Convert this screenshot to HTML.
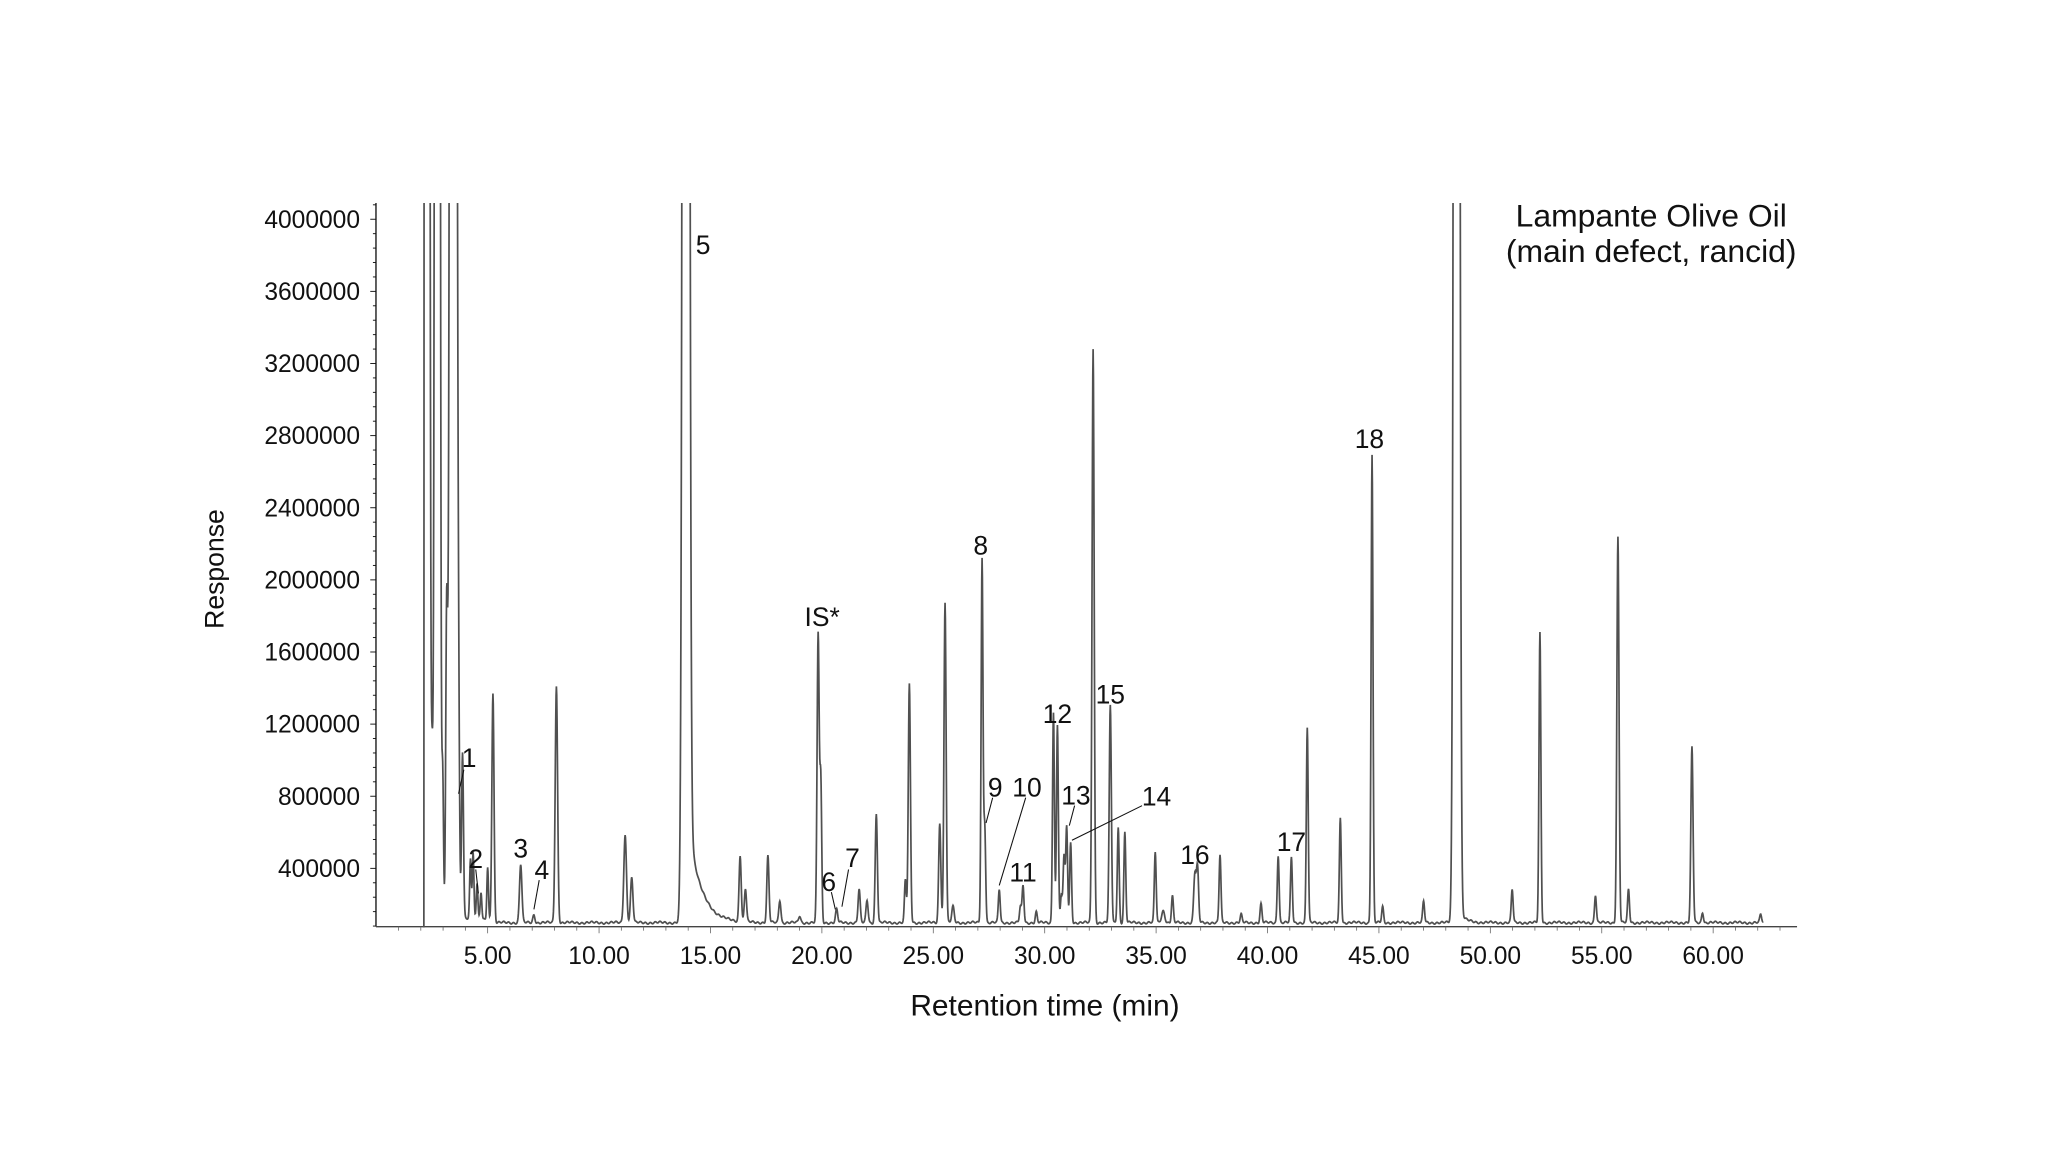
<!DOCTYPE html>
<html><head><meta charset="utf-8"><style>
html,body{margin:0;padding:0;background:#fff;}
svg{display:block;}
text{font-family:"Liberation Sans",sans-serif;fill:#111;}
.yl{font-size:18.5px;text-anchor:end;}
.xl{font-size:18.5px;text-anchor:middle;}
.pl{font-size:20px;text-anchor:middle;}
</style></head><body>
<svg id="s" width="2066" height="1158" viewBox="0 0 1554 871" xmlns="http://www.w3.org/2000/svg">
<defs><clipPath id="c"><rect x="283" y="152.7" width="1070" height="545"/></clipPath></defs>
<g id="axes" stroke="#111" stroke-width="1"></g>
<g clip-path="url(#c)"><g transform="matrix(0.99436 0 0 1 -6.085 -6)"><path id="p" fill="none" stroke="#505050" stroke-width="1.3"/></g></g>
<g id="labels"></g>
<text x="163" y="428" transform="rotate(-90 163 428)" style="font-size:20px" text-anchor="middle" dominant-baseline="middle">Response</text>
<text x="786" y="764" style="font-size:22.5px" text-anchor="middle">Retention time (min)</text>
<text x="1242" y="170.5" style="font-size:24px" text-anchor="middle">Lampante Olive Oil</text>
<text x="1242" y="197" style="font-size:24px" text-anchor="middle">(main defect, rancid)</text>
<g transform="matrix(0.99436 0 0 1 -6.085 -6)">
<g stroke="#111" stroke-width="0.8">
<line x1="357" y1="585" x2="353" y2="603"/>
<line x1="366" y1="660" x2="368" y2="678"/>
<line x1="414" y1="668" x2="410" y2="690"/>
<line x1="635" y1="677" x2="638" y2="690"/>
<line x1="648" y1="660" x2="643" y2="688"/>
<line x1="757" y1="606" x2="752" y2="625"/>
<line x1="782" y1="606" x2="762" y2="672"/>
<line x1="819" y1="612" x2="815" y2="627"/>
<line x1="870" y1="612" x2="817" y2="638"/>
</g>
<text class="pl" x="538" y="197">5</text>
<text class="pl" x="628" y="477">IS*</text>
<text class="pl" x="748" y="423">8</text>
<text class="pl" x="1042" y="343">18</text>
<text class="pl" x="806" y="550">12</text>
<text class="pl" x="846" y="535">15</text>
<text class="pl" x="759" y="605">9</text>
<text class="pl" x="783" y="605">10</text>
<text class="pl" x="820" y="611">13</text>
<text class="pl" x="881" y="612">14</text>
<text class="pl" x="780" y="669">11</text>
<text class="pl" x="910" y="656">16</text>
<text class="pl" x="983" y="646">17</text>
<text class="pl" x="361" y="583">1</text>
<text class="pl" x="366" y="659">2</text>
<text class="pl" x="400" y="651">3</text>
<text class="pl" x="416" y="667">4</text>
<text class="pl" x="633" y="676">6</text>
<text class="pl" x="651" y="658">7</text>
</g>
</svg>
<script>
var ax=document.getElementById('axes'),lb=document.getElementById('labels'),NS='http://www.w3.org/2000/svg';
function el(t,a,p){var e=document.createElementNS(NS,t);for(var k in a)e.setAttribute(k,a[k]);(p||ax).appendChild(e);return e;}
var AX=282.8,AY=697,TOP=152.7,END=1351.7;
function Y(v){return 707.4-v/400000*54.25;}
el('line',{x1:AX,y1:TOP,x2:AX,y2:AY});
el('line',{x1:AX,y1:AY,x2:END,y2:AY,stroke:'#444'});
for(var v=0;v<=4200000;v+=80000){var y=Y(v);if(y>AY||y<TOP)continue;var maj=v%400000==0;el('line',{x1:maj?278.5:280.5,y1:y,x2:AX,y2:y,'stroke-width':0.7});}
for(var i=1;i<=10;i++){var v=i*400000;var t=el('text',{class:'yl',x:270.8,y:Y(v)+6.5},lb);t.textContent=String(v);}
function X(t){return 366.8+(t-5)*16.76;}
for(var m=0;m<=63;m++){var x=X(m);if(x<284)continue;el('line',{x1:x,y1:AY,x2:x,y2:m%5==0?702:700,'stroke-width':0.6,stroke:'#666'});}
for(var m=5;m<=60;m+=5){var t=el('text',{class:'xl',x:X(m),y:725},lb);t.textContent=m.toFixed(2);}
var P=[[329,-3000,1.2],[337,-3000,1.2],[349,-3000,1.6],[331,527,.7],[333,595,.7],[330,650,.6],[335,610,.6],[341,600,.6],[344,482,.7],[347,620,.6],[353,605,.7],[356,576,.7],[362,655,.6],[364,650,.6],[367,673,.6],[370,680,.6],[375,660,.6],[379,529,.8],[400,656,.9],[410,694,.8],[427,522,.9],[479,634,1],[484,666,.9],[525,-3000,1.6],[566,650,.8],[570,675,.8],[587,650,.8],[596,683,.8],[611,695,.8],[625,483,.8],[627,595,.7],[639,690,.8],[656,675,.8],[662,683,.8],[669,618,.8],[691,668,.7],[694,521,.8],[717,625,.8],[721,459,.8],[727,688,.9],[749,427,.7],[751,627,.7],[762,675,.7],[778,688,.7],[780,672,.7],[790,692,.7],[803,541,.7],[806,551,.7],[809,680,.7],[811,650,.7],[813,628,.7],[816,640,.7],[833,268,.8],[846,537,.8],[852,628,.7],[857,632,.7],[880,647,.7],[886,691,1.2],[893,680,.7],[910,663,.9],[912,660,.8],[929,649,.7],[945,694,.7],[960,686,.7],[973,649,.7],[983,651,.7],[995,553,.7],[1020,621,.7],[1044,348,.7],[1052,688,.7],[1083,684,.7],[1108,-3000,1.4],[1150,675,.7],[1171,482,.7],[1213,679,.7],[1230,410,.8],[1238,675,.7],[1286,568,.8],[1294,692,.7],[1338,694,.7]];
var d='',s=Math.sin;
for(var x=326;x<=1340;x+=0.25){
 var base=x<330?703:700-(x<380?12*Math.exp(-(x-330)/25):0)+0.6*s(x*1.7)+0.5*s(x*0.37);
 var h=0;
 for(var k=0;k<P.length;k++){var p=P[k],a=700-p[1],dx=x-p[0];if(Math.abs(dx)>8*p[2])continue;h+=a*Math.exp(-dx*dx/(2*p[2]*p[2]));}
 if(x>526)h+=95*Math.exp(-(x-525)/9);
 if(x>1108)h+=10*Math.exp(-(x-1108)/5);
 var y=x<327?703:base-h;
 d+=(d?'L':'M')+x.toFixed(2)+' '+y.toFixed(2);
}
document.getElementById('p').setAttribute('d',d);
</script>
</body></html>
